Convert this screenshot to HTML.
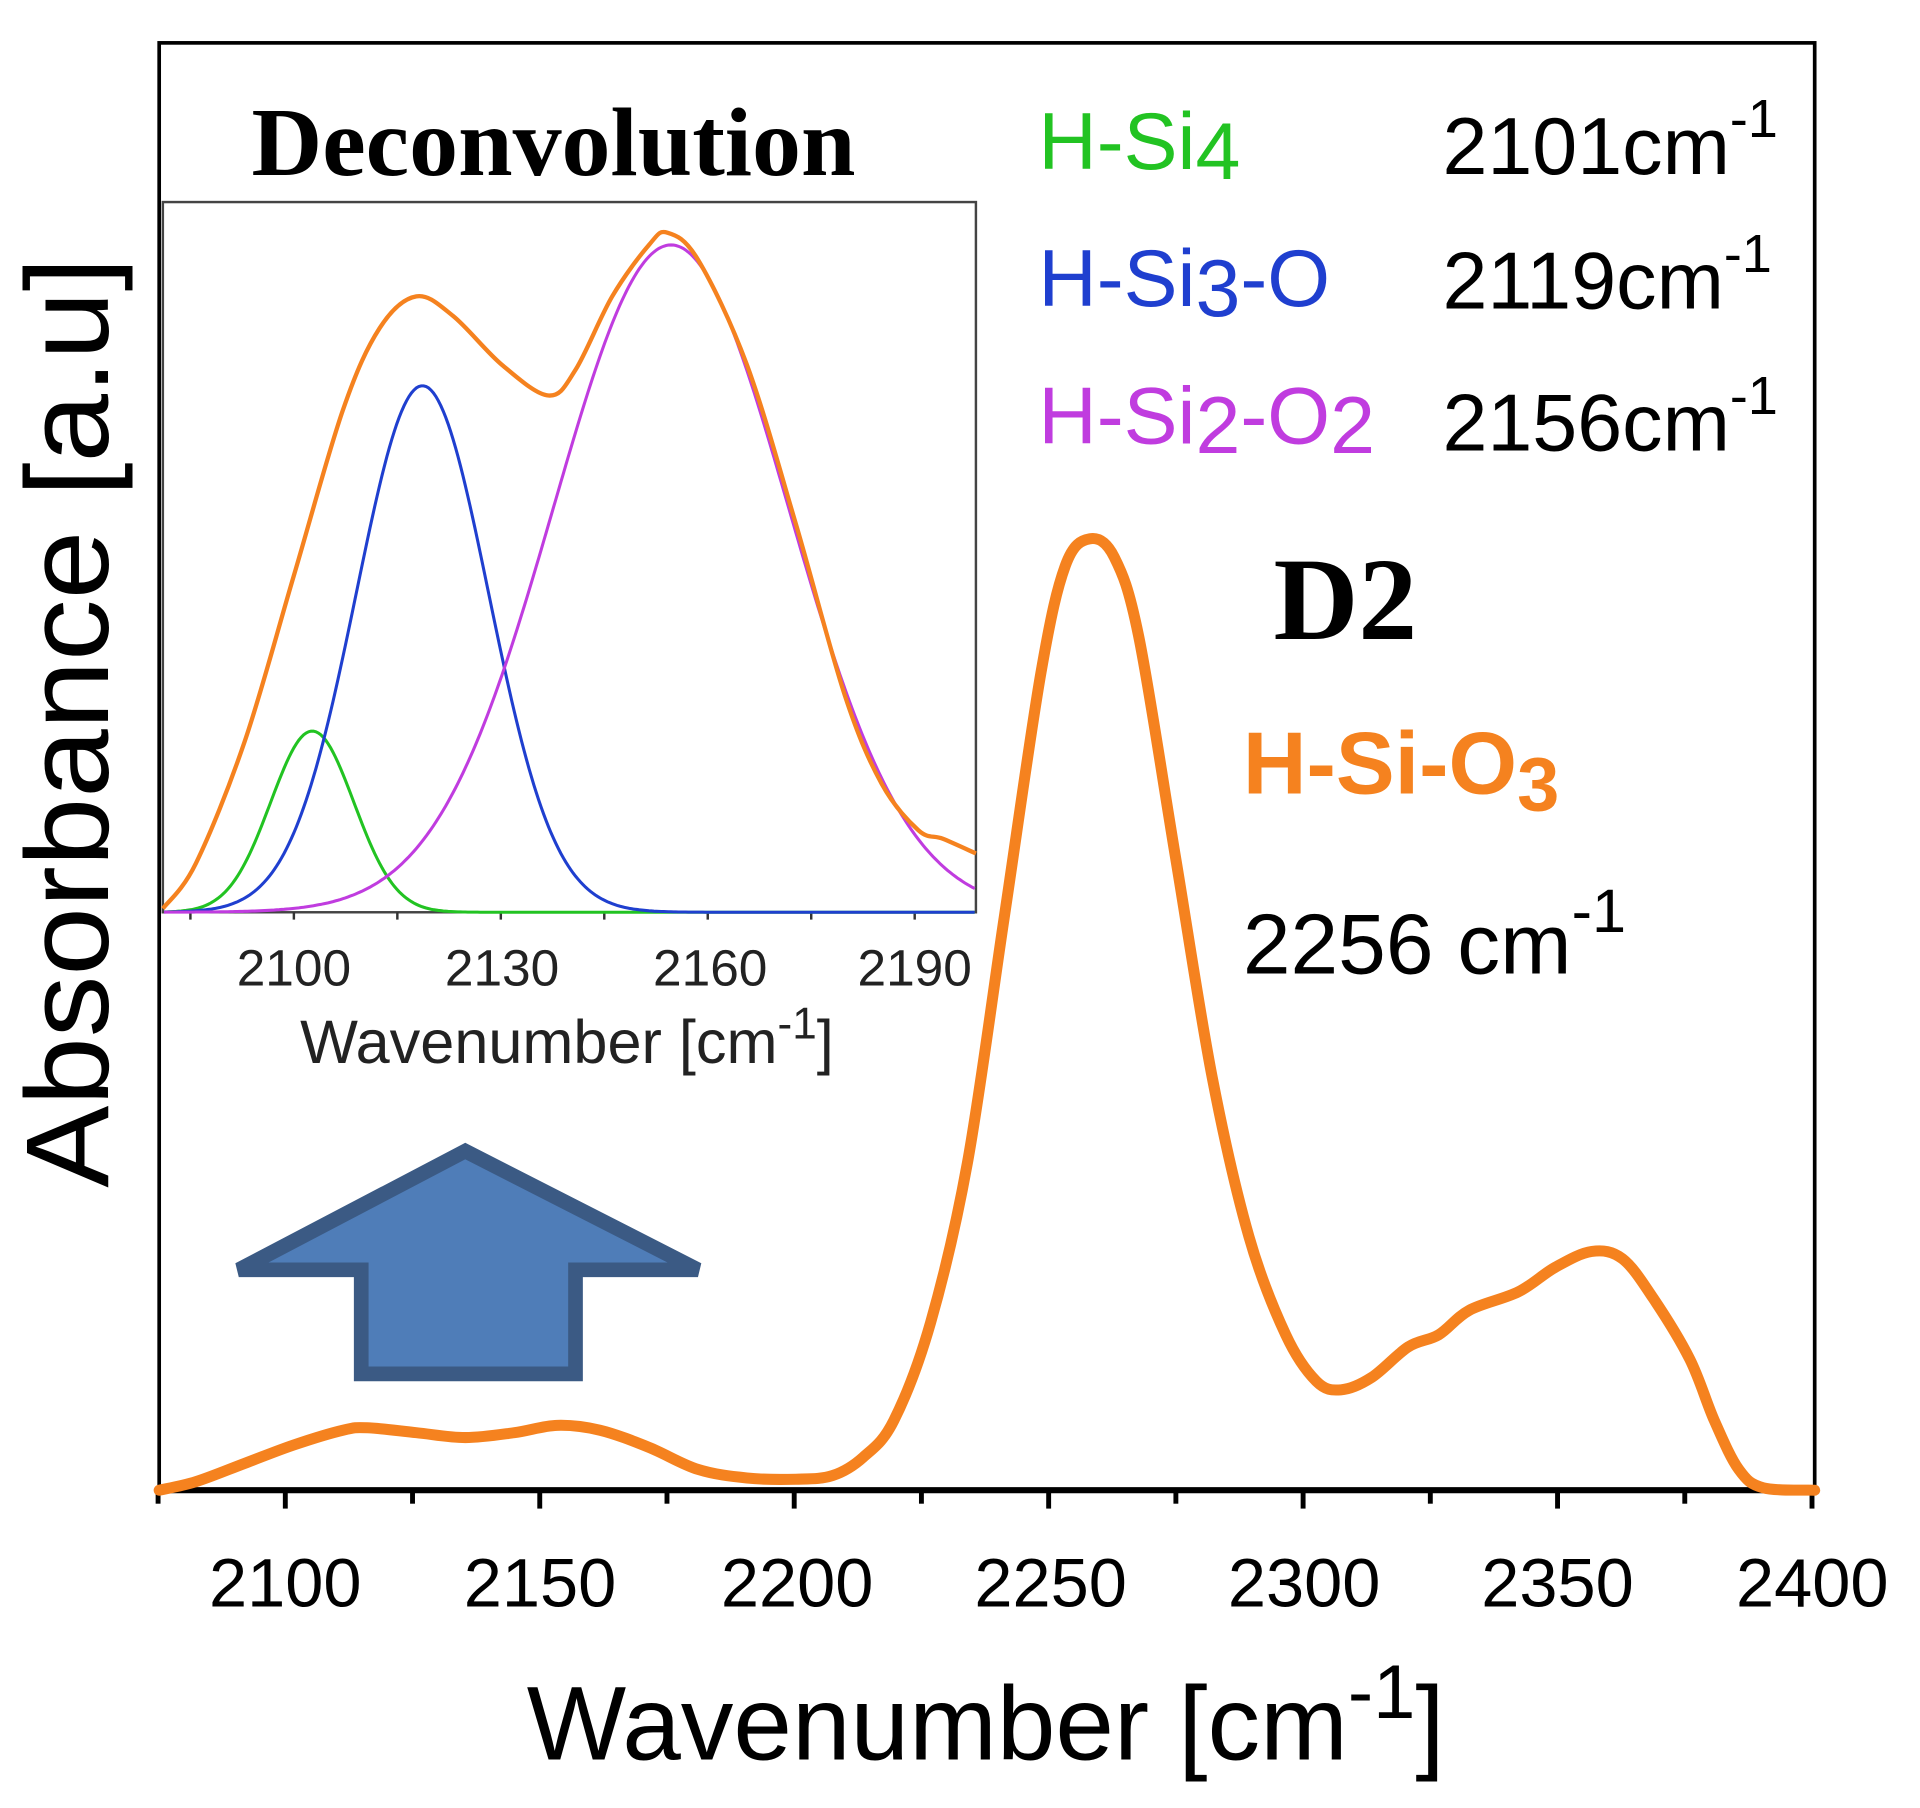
<!DOCTYPE html>
<html><head><meta charset="utf-8"><style>
html,body{margin:0;padding:0;background:#fff;}
svg{display:block}
text{font-family:"Liberation Sans",sans-serif;}
</style></head><body>
<svg id="s" width="1920" height="1808" viewBox="0 0 1568 1476.5" xmlns="http://www.w3.org/2000/svg">
<rect x="0" y="0" width="1568" height="1477" fill="#fff"/>
<rect x="130" y="35" width="1352" height="1182" fill="none" stroke="#000" stroke-width="3"/>
<line x1="128" y1="1217" x2="1484" y2="1217" stroke="#000" stroke-width="5"/>
<g id="ticks" stroke="#000" stroke-width="4"></g>
<g font-size="56" text-anchor="middle" fill="#000">
<text x="233" y="1312">2100</text><text x="441" y="1312">2150</text><text x="651" y="1312">2200</text>
<text x="858" y="1312">2250</text><text x="1065" y="1312">2300</text><text x="1272" y="1312">2350</text><text x="1480" y="1312">2400</text>
</g>
<text x="805" y="1437" font-size="86" text-anchor="middle">Wavenumber [cm<tspan dy="-34" font-size="62">-1</tspan><tspan dy="34">]</tspan></text>
<text transform="translate(88,590) rotate(-90)" font-size="96" text-anchor="middle" textLength="760" lengthAdjust="spacingAndGlyphs">Absorbance [a.u]</text>

<polygon points="195,1037 380,940 570,1037 470,1037 470,1122 295,1122 295,1037" fill="#4f7db8" stroke="#3b5a84" stroke-width="12" stroke-linejoin="miter"/>

<path id="main" fill="none" stroke="#f5821f" stroke-width="9" stroke-linejoin="round" stroke-linecap="round"/>

<rect x="133" y="165" width="664" height="580" fill="#fff" stroke="#444" stroke-width="2"/>
<g id="iticks" stroke="#333" stroke-width="2"></g>
<path id="g1" fill="none" stroke="#22c322" stroke-width="2.5"/>
<path id="g2" fill="none" stroke="#1f3fcf" stroke-width="2.5"/>
<path id="g3" fill="none" stroke="#c03cdf" stroke-width="2.5"/>
<path id="io" fill="none" stroke="#f5821f" stroke-width="3.5" stroke-linejoin="round"/>
<g font-size="42" text-anchor="middle" fill="#222">
<text x="240" y="805">2100</text><text x="410" y="805">2130</text><text x="580" y="805">2160</text><text x="747" y="805">2190</text>
</g>
<text x="463" y="868" font-size="50" text-anchor="middle" fill="#222">Wavenumber [cm<tspan dy="-20" font-size="36">-1</tspan><tspan dy="20">]</tspan></text>
<text x="452" y="143" font-size="80" font-weight="bold" text-anchor="middle" style="font-family:'Liberation Serif',serif">Deconvolution</text>

<g font-size="66">
<text x="848" y="138" fill="#22c322">H-Si<tspan dy="8">4</tspan></text>
<text x="848" y="250" fill="#1f3fcf">H-Si<tspan dy="8">3</tspan><tspan dy="-8">-O</tspan></text>
<text x="848" y="362" fill="#c03cdf">H-Si<tspan dy="8">2</tspan><tspan dy="-8">-O</tspan><tspan dy="8">2</tspan></text>
<text x="1178" y="142" fill="#000">2101cm<tspan dy="-30" font-size="44">-1</tspan></text>
<text x="1178" y="252" fill="#000">2119cm<tspan dy="-30" font-size="44">-1</tspan></text>
<text x="1178" y="368" fill="#000">2156cm<tspan dy="-30" font-size="44">-1</tspan></text>
</g>
<text x="1040" y="522" font-size="96" font-weight="bold" style="font-family:'Liberation Serif',serif">D2</text>
<text x="1015" y="648" font-size="72" font-weight="bold" fill="#f5821f">H-Si-O<tspan dy="14" font-size="62">3</tspan></text>
<text x="1015" y="795" font-size="70" fill="#000">2256 cm<tspan dy="-34" font-size="50">-1</tspan></text>
</svg>
<script>
function cr(p){var d="M"+p[0][0]+","+p[0][1];for(var i=0;i<p.length-1;i++){var p0=p[i-1]||p[i],p1=p[i],p2=p[i+1],p3=p[i+2]||p2;
d+=" C"+(p1[0]+(p2[0]-p0[0])/6)+","+(p1[1]+(p2[1]-p0[1])/6)+" "+(p2[0]-(p3[0]-p1[0])/6)+","+(p2[1]-(p3[1]-p1[1])/6)+" "+p2[0]+","+p2[1];}return d;}
var m=[[130,1217],[160,1210],[200,1195],[240,1180],[280,1168],[300,1166],[340,1170],[380,1174],[420,1170],[455,1164],[490,1168],[530,1182],[570,1200],[610,1207],[650,1208],[680,1205],[705,1190],[730,1160],[760,1080],[790,950],[820,750],[850,550],[870,462],[890,440],[910,455],[930,520],[960,700],[990,880],[1020,1010],[1050,1090],[1075,1128],[1095,1135],[1120,1125],[1150,1100],[1175,1090],[1200,1070],[1240,1055],[1270,1035],[1300,1022],[1325,1028],[1350,1060],[1380,1110],[1400,1160],[1420,1200],[1440,1215],[1482,1217]];
document.getElementById("main").setAttribute("d",cr(m));
var io=[[133,742],[160,705],[200,605],[240,470],[280,335],[310,268],[340,242],[370,258],[410,298],[448,323],[470,302],[500,242],[530,200],[545,190],[570,212],[610,298],[650,428],[690,568],[720,640],[750,678],[770,685],[797,697]];
document.getElementById("io").setAttribute("d",cr(io));
function g(id,c,h,s){var d="";for(var x=134;x<=797;x+=2){var y=745-h*Math.exp(-Math.pow(x-c,2)/(2*s*s));d+=(d?"L":"M")+x+","+y.toFixed(1);}document.getElementById(id).setAttribute("d",d);}
g("g1",255,148,34);g("g2",345,430,54);g("g3",548,545,96);
var ns="http://www.w3.org/2000/svg",T=document.getElementById("ticks");
for(var v=2075;v<=2400;v+=25){var x=233+(v-2100)*4.156;var l=document.createElementNS(ns,"line");l.setAttribute("x1",x);l.setAttribute("x2",x);l.setAttribute("y1",1217);l.setAttribute("y2",v%50==0?1232:1228);T.appendChild(l);}
var I=document.getElementById("iticks");
for(var v=2085;v<=2200;v+=15){var x=240+(v-2100)*169/30;if(x<134||x>796)continue;var l=document.createElementNS(ns,"line");l.setAttribute("x1",x);l.setAttribute("x2",x);l.setAttribute("y1",745);l.setAttribute("y2",v%30==10?755:751);I.appendChild(l);}
</script>
</body></html>
